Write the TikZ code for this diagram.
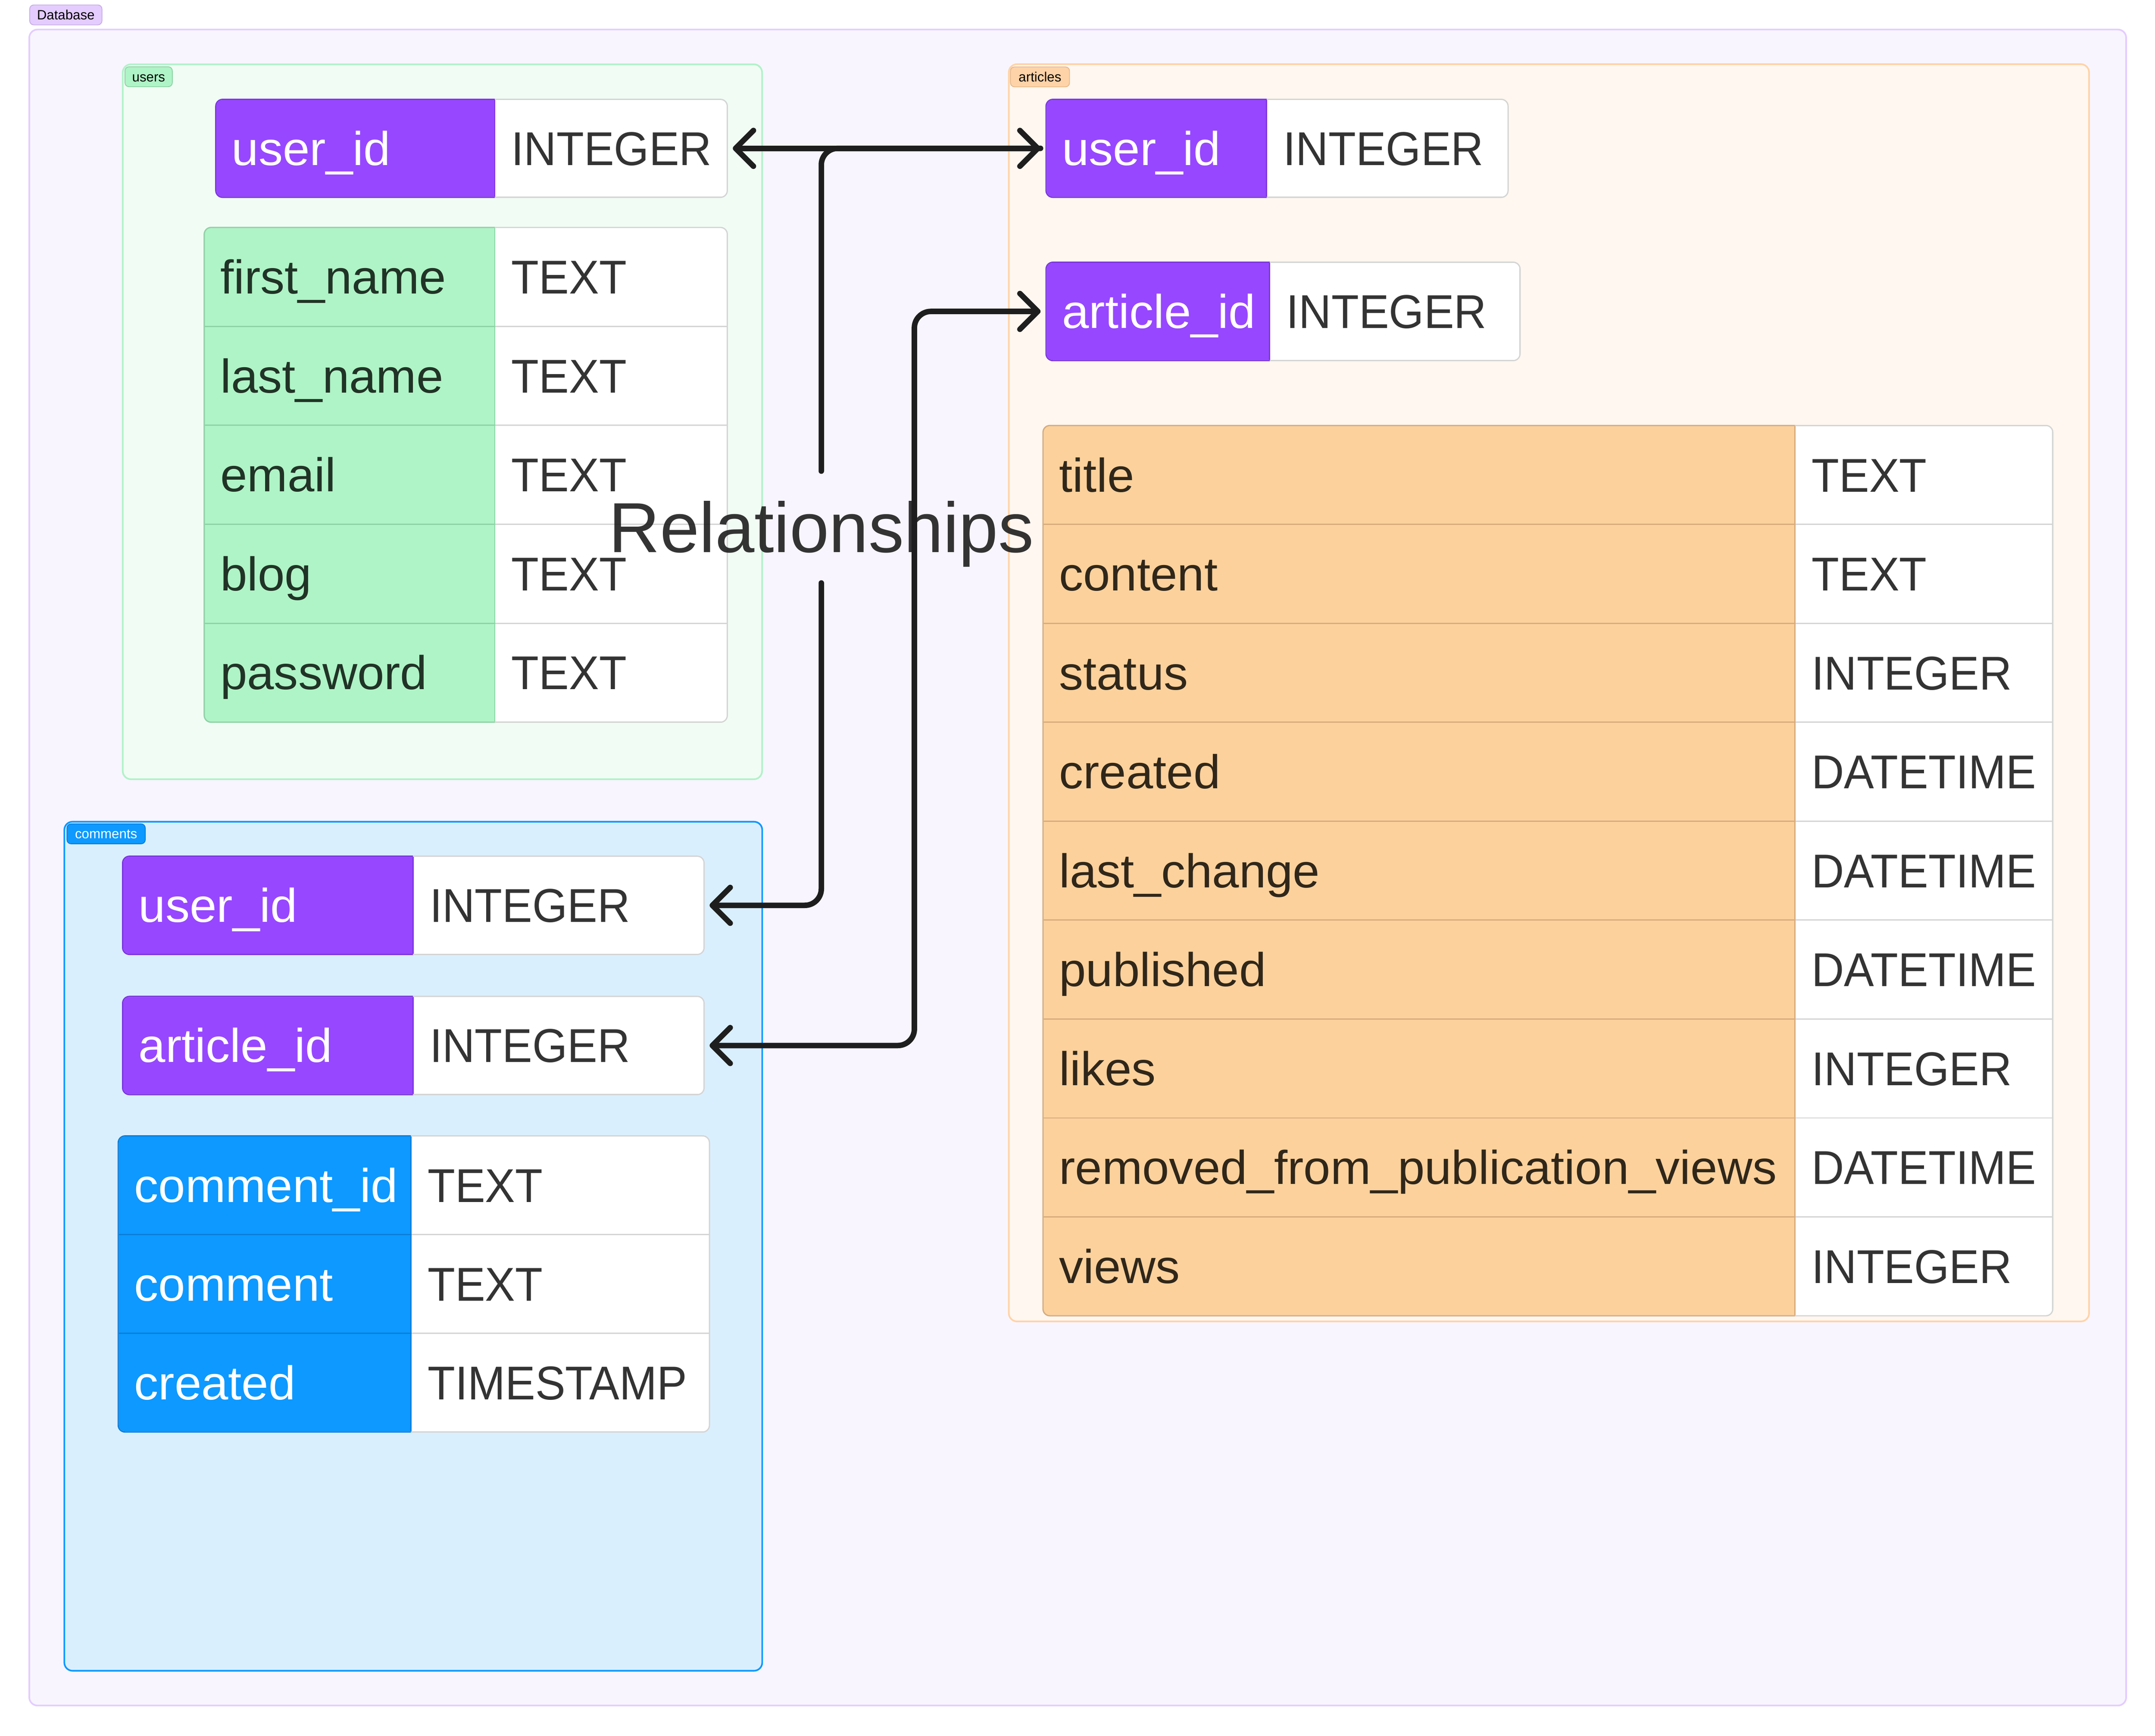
\documentclass[tikz,border=0pt]{standalone}
\usepackage{fontspec}
\setmainfont{Liberation Sans}
\newfontfamily\valfam[FakeStretch=0.95]{Liberation Sans}
\newfontfamily\keyfam[FakeStretch=1.02]{Liberation Sans}
\usetikzlibrary{arrows.meta}
\definecolor{cDBfill}{HTML}{F8F5FE}
\definecolor{cDBline}{HTML}{E4CCFF}
\definecolor{cDBlab}{HTML}{E4CCFF}
\definecolor{cDBlabD}{HTML}{C9AEE6}
\definecolor{cUfill}{HTML}{F1FCF4}
\definecolor{cUline}{HTML}{B0F2C8}
\definecolor{cCfill}{HTML}{DAEFFE}
\definecolor{cCline}{HTML}{0D99FF}
\definecolor{cAfill}{HTML}{FFF7F0}
\definecolor{cAline}{HTML}{FFD3A8}
\definecolor{cPurple}{HTML}{9747FF}
\definecolor{cPurpleD}{HTML}{7B35E0}
\definecolor{cGreen}{HTML}{AFF4C6}
\definecolor{cGreenD}{HTML}{8ED3A6}
\definecolor{cGreenT}{HTML}{213326}
\definecolor{cBlue}{HTML}{0D99FF}
\definecolor{cBlueD}{HTML}{0A7ED8}
\definecolor{cOrange}{HTML}{FCD19C}
\definecolor{cOrangeD}{HTML}{D8AC7C}
\definecolor{cOrangeT}{HTML}{30271A}
\definecolor{cALab}{HTML}{FFD3A8}
\definecolor{cALabD}{HTML}{E6B88A}
\definecolor{cGrid}{HTML}{D4D4D4}
\definecolor{cVal}{HTML}{333333}
\definecolor{cLine}{HTML}{1E1E1E}
\newcommand\cellfont{\fontsize{34.5pt}{40pt}\selectfont}
\newcommand\relfont{\fontsize{51.5pt}{60pt}\selectfont}
\newcommand\labfont{\fontsize{9.8pt}{11pt}\selectfont}
\newcommand\tblborder[6]{%
  \draw[draw=cGrid, line width=0.9pt, rounded corners=5pt] (#1,#2) rectangle (#4,#5);
  \begin{scope}
    \clip (#1-3,#2-3) rectangle (#3,#5+3);
    \draw[draw=#6, line width=0.9pt, rounded corners=5pt] (#1,#2) rectangle (#4,#5);
  \end{scope}}
\tikzset{
  cellb/.style={rectangle, anchor=north west, inner sep=0pt, outer sep=0pt, line width=0.9pt},
  valcell/.style={cellb, fill=white, draw=cGrid},
  keyP/.style={cellb, fill=cPurple, draw=cPurpleD},
  keyG/.style={cellb, fill=cGreen, draw=cGreenD},
  keyB/.style={cellb, fill=cBlue, draw=cBlueD},
  keyO/.style={cellb, fill=cOrange, draw=cOrangeD},
  ctext/.style={anchor=west, inner sep=0pt, text height=24.5pt, text depth=0pt},
  ktext/.style={ctext, font=\keyfam\cellfont},
  vtext/.style={ctext, font=\valfam\cellfont, text=cVal},
  group/.style={line width=1.2pt, rounded corners=6pt},
  grplabel/.style={anchor=north west, rectangle, rounded corners=3pt, line width=0.6pt,
    inner xsep=0pt, inner ysep=0pt, minimum height=14.5pt, font=\labfont,
    text height=7pt, text depth=0pt},
  conn/.style={draw=cLine, line width=4pt, line cap=round, line join=round,
    rounded corners=12pt, shorten >=4pt, shorten <=4pt,
    >={Straight Barb[length=13pt, width=26pt, round]}},
  rellabel/.style={font=\relfont, text=cLine, text opacity=0.9, inner xsep=0pt,
    inner ysep=22pt, text height=37pt, text depth=0pt}
}
\begin{document}
\begin{tikzpicture}[x=1pt,y=-1pt]
\useasboundingbox (0,0) rectangle (1568,1262.9);
\fill[white] (0,0) rectangle (1568,1262.9);

% ---------- containers ----------
\draw[group, fill=cDBfill, draw=cDBline] (21.3,21.5) rectangle (1547,1241);
\node[grplabel, fill=cDBlab, draw=cDBlabD, minimum width=52.6pt] (labDB) at (21.3,3.3) {Database};

\draw[group, fill=cUfill, draw=cUline] (89.3,46.8) rectangle (554.5,567);
\node[grplabel, fill=cGreen, draw=cGreenD, minimum width=34.5pt] (labU) at (90.6,48.3) {users};

\draw[group, fill=cCfill, draw=cCline] (46.8,597.9) rectangle (554.6,1215.7);
\node[grplabel, fill=cBlue, draw=cBlueD, text=white, minimum width=57pt] (labC) at (48.4,599.2) {comments};

\draw[group, fill=cAfill, draw=cAline] (734,46.7) rectangle (1520,961.5);
\node[grplabel, fill=cALab, draw=cALabD, minimum width=43pt] (labA) at (734.9,48.4) {articles};

% ---------- users ----------
\begin{scope}
\clip[rounded corners=5pt] (157,72.3) rectangle (529.2,143.6);
\node[valcell, minimum width=169.2pt, minimum height=71.3pt] (uUidV) at (360,72.3) {};
\node[keyP, minimum width=203pt, minimum height=71.3pt] (uUidK) at (157,72.3) {};
\end{scope}
\tblborder{157}{72.3}{360}{529.2}{143.6}{cPurpleD}
\node[ktext, text=white] (uUidKt) at ([xshift=11.5pt]uUidK.west) {user\_id};
\node[vtext] (uUidVt) at ([xshift=12pt]uUidV.west) {INTEGER};

\begin{scope}
\clip[rounded corners=5pt] (148.6,165.5) rectangle (529.2,525.5);
\foreach \k/\v [count=\i from 0] in {first\_name/TEXT,last\_name/TEXT,email/TEXT,blog/TEXT,password/TEXT}{
  \node[valcell, minimum width=169.2pt, minimum height=72pt] (uFV\i) at (360,165.5+72*\i) {};
  \node[keyG, minimum width=211.4pt, minimum height=72pt] (uFK\i) at (148.6,165.5+72*\i) {};
  \node[ktext, text=cGreenT] (uFKt\i) at ([xshift=11.5pt]uFK\i.west) {\k};
  \node[vtext] (uFVt\i) at ([xshift=12pt]uFV\i.west) {\v};
}
\end{scope}
\tblborder{148.6}{165.5}{360}{529.2}{525.5}{cGreenD}

% ---------- comments ----------
\begin{scope}
\clip[rounded corners=5pt] (89.2,623) rectangle (512.3,694.5);
\node[valcell, minimum width=211.8pt, minimum height=71.5pt] (cUidV) at (300.5,623) {};
\node[keyP, minimum width=211.3pt, minimum height=71.5pt] (cUidK) at (89.2,623) {};
\end{scope}
\tblborder{89.2}{623}{300.5}{512.3}{694.5}{cPurpleD}
\node[ktext, text=white] (cUidKt) at ([xshift=11.5pt]cUidK.west) {user\_id};
\node[vtext] (cUidVt) at ([xshift=12pt]cUidV.west) {INTEGER};

\begin{scope}
\clip[rounded corners=5pt] (89.2,725) rectangle (512.3,796.5);
\node[valcell, minimum width=211.8pt, minimum height=71.5pt] (cAidV) at (300.5,725) {};
\node[keyP, minimum width=211.3pt, minimum height=71.5pt] (cAidK) at (89.2,725) {};
\end{scope}
\tblborder{89.2}{725}{300.5}{512.3}{796.5}{cPurpleD}
\node[ktext, text=white] (cAidKt) at ([xshift=11.5pt]cAidK.west) {article\_id};
\node[vtext] (cAidVt) at ([xshift=12pt]cAidV.west) {INTEGER};

\begin{scope}
\clip[rounded corners=5pt] (86,826.5) rectangle (516.2,1042);
\foreach \k/\v [count=\i from 0] in {comment\_id/TEXT,comment/TEXT,created/TIMESTAMP}{
  \node[valcell, minimum width=217.2pt, minimum height=71.83pt] (cFV\i) at (299,826.5+71.83*\i) {};
  \node[keyB, minimum width=213pt, minimum height=71.83pt] (cFK\i) at (86,826.5+71.83*\i) {};
  \node[ktext, text=white] (cFKt\i) at ([xshift=11.5pt]cFK\i.west) {\k};
  \node[vtext] (cFVt\i) at ([xshift=12pt]cFV\i.west) {\v};
}
\end{scope}
\tblborder{86}{826.5}{299}{516.2}{1042}{cBlueD}

% ---------- articles ----------
\begin{scope}
\clip[rounded corners=5pt] (761.1,72.3) rectangle (1097.3,143.6);
\node[valcell, minimum width=175.7pt, minimum height=71.3pt] (aUidV) at (921.6,72.3) {};
\node[keyP, minimum width=160.5pt, minimum height=71.3pt] (aUidK) at (761.1,72.3) {};
\end{scope}
\tblborder{761.1}{72.3}{921.6}{1097.3}{143.6}{cPurpleD}
\node[ktext, text=white] (aUidKt) at ([xshift=11.5pt]aUidK.west) {user\_id};
\node[vtext] (aUidVt) at ([xshift=12pt]aUidV.west) {INTEGER};

\begin{scope}
\clip[rounded corners=5pt] (761.1,190.8) rectangle (1106,262.4);
\node[valcell, minimum width=182.2pt, minimum height=71.6pt] (aAidV) at (923.8,190.8) {};
\node[keyP, minimum width=162.7pt, minimum height=71.6pt] (aAidK) at (761.1,190.8) {};
\end{scope}
\tblborder{761.1}{190.8}{923.8}{1106}{262.4}{cPurpleD}
\node[ktext, text=white] (aAidKt) at ([xshift=11.5pt]aAidK.west) {article\_id};
\node[vtext] (aAidVt) at ([xshift=12pt]aAidV.west) {INTEGER};

\begin{scope}
\clip[rounded corners=5pt] (758.9,309.6) rectangle (1493.6,957.4);
\foreach \k/\v [count=\i from 0] in {title/TEXT,content/TEXT,status/INTEGER,created/DATETIME,last\_change/DATETIME,published/DATETIME,likes/INTEGER,removed\_from\_publication\_views/DATETIME,views/INTEGER}{
  \node[valcell, minimum width=187.6pt, minimum height=71.98pt] (aFV\i) at (1306,309.6+71.98*\i) {};
  \node[keyO, minimum width=547.1pt, minimum height=71.98pt] (aFK\i) at (758.9,309.6+71.98*\i) {};
  \node[ktext, text=cOrangeT] (aFKt\i) at ([xshift=11.5pt]aFK\i.west) {\k};
  \node[vtext] (aFVt\i) at ([xshift=12pt]aFV\i.west) {\v};
}
\end{scope}
\tblborder{758.9}{309.6}{1306}{1493.6}{957.4}{cOrangeD}

% ---------- relationships ----------
\node[rellabel] (rel) at (597.6,383.5) {Relationships};
\coordinate (j2) at (665.3,500);

\draw[conn, <->] (uUidV.east) -- (aUidK.west);
\draw[conn, shorten >=0pt] (aUidK.west) -| (rel.north);
\draw[conn, ->, shorten <=0pt] (rel.south) |- (cUidV.east);
\draw[conn, <->] (aAidK.west) -| (j2) |- (cAidV.east);
\end{tikzpicture}
\end{document}
